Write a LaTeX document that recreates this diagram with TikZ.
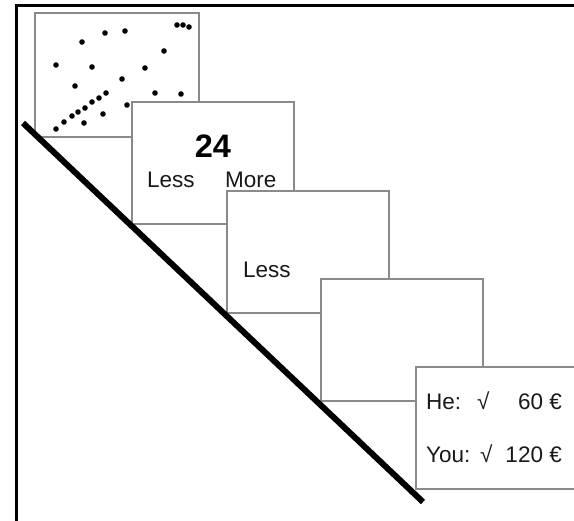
\documentclass[tikz,border=0pt]{standalone}
\usepackage{fontspec}
\setmainfont{Liberation Sans}
\definecolor{boxgray}{RGB}{138,138,138}
\begin{document}
\begin{tikzpicture}[x=1pt,y=-1pt,
  slide/.style={draw=boxgray, line width=1.4pt, fill=white, minimum width=162pt,
    minimum height=122pt, anchor=north west, inner sep=0pt, outer sep=0pt},
  dotmark/.style={fill=black, circle, inner sep=0pt, minimum size=5.6pt},
  lbl/.style={font=\fontsize{22.5}{27}\selectfont, text=black!90, inner sep=0pt},
  big/.style={font=\fontsize{32.5}{38}\selectfont\bfseries, inner sep=0pt}]
\useasboundingbox (0,0) rectangle (574,521);
\clip (0,0) rectangle (574,521);
% outer frame
\coordinate (fb) at (16,521);
\coordinate (fc) at (16,6);
\coordinate (fr) at (574,6);
\draw[line width=3pt] (fb) -- (fc) -- (fr);
% slide 1 with dots
\node[slide, minimum width=164pt, minimum height=124pt] (s1) at (35,13) {};
\foreach \px/\py in {177/25,183/25,189/27,105/33,125/31,82/42,164/51,
  56/65,92/67,145/68,122/79,75/86,106/93,155/93,181/94,99/98,92/102,
  85/108,78/112,72/116,103/114,64/122,84/123,56/129,127/105}
  \node[dotmark] at (\px,\py) {};
% slide 2
\node[slide] (s2) at (132,102) {};
\node[big, anchor=base] (n24) at (213,158) {24};
\node[lbl, anchor=base west] (l2) at (147,188) {Less};
\node[lbl, anchor=base west] (m2) at (225,188) {More};
% slide 3
\node[slide] (s3) at (227,191) {};
\node[lbl, anchor=base west] (l3) at (243,278) {Less};
% slide 4
\node[slide] (s4) at (321,279) {};
% slide 5
\node[slide, minimum width=170pt] (s5) at (416,367) {};
\node[lbl, anchor=base west] (he) at (426,410) {He:};
\node[lbl, anchor=base west] (hc) at (477,410) {√};
\node[lbl, anchor=base east] (hv) at (562,410) {60 €};
\node[lbl, anchor=base west] (yo) at (426,463) {You:};
\node[lbl, anchor=base west] (yc) at (480,463) {√};
\node[lbl, anchor=base east] (yv) at (562,463) {120 €};
% diagonal time line
\coordinate (d1) at (23,123);
\coordinate (d2) at (423,502);
\draw[line width=6pt] (d1) -- (d2);
\end{tikzpicture}
\end{document}
